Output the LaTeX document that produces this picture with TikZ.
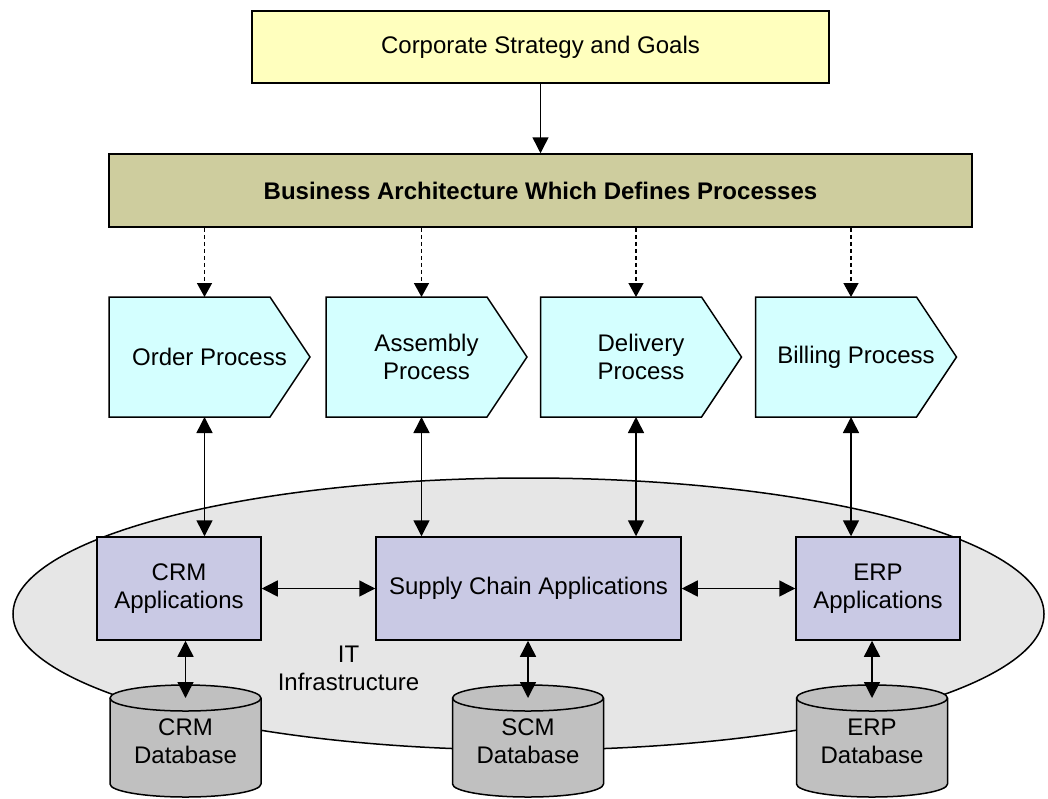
\documentclass[tikz,border=0pt]{standalone}
\usepackage{fontspec}
\setmainfont{Liberation Sans}
\usetikzlibrary{positioning}
\usetikzlibrary{shapes.geometric,arrows.meta,backgrounds}

\definecolor{goalyellow}{RGB}{255,255,190}
\definecolor{archolive}{RGB}{206,205,158}
\definecolor{proccyan}{RGB}{212,255,255}
\definecolor{applilac}{RGB}{201,201,228}
\definecolor{infragray}{RGB}{230,230,230}
\definecolor{dbgray}{RGB}{192,192,192}

\tikzset{
  box/.style={draw,line width=1.5pt,align=center,inner sep=0pt},
  proc/.style={align=center,inner sep=0pt,outer sep=0pt,minimum width=201pt,minimum height=120pt},
  procshape/.style={draw,line width=1.5pt,fill=proccyan,line join=miter},
  app/.style={box,fill=applilac,minimum height=103pt},
  dbshape/.style={draw,line width=1.5pt,fill=dbgray},
  dbtext/.style={align=center,inner sep=0pt,outer sep=0pt,minimum width=151pt,minimum height=112pt},
  tip/.tip={Triangle[length=16pt,width=16pt]},
  link/.style={line width=1.5pt,-tip},
  dualink/.style={line width=1.5pt,tip-tip},
  dashlink/.style={line width=1.5pt,-{Triangle[length=14pt,width=15pt]},dash pattern=on 4pt off 3pt}
}

\begin{document}
\begin{tikzpicture}[x=1pt,y=-1pt,font=\fontsize{24}{28}\selectfont]
\useasboundingbox (0,0) rectangle (1048,798);
% IT layer
\node[ellipse,draw,line width=1.5pt,fill=infragray,inner sep=0pt,minimum width=1031pt,minimum height=272pt] (infra) at (528.5,614) {};
\node[align=center] (itlabel) at (348.5,668) {IT\\Infrastructure};

\node[box,fill=goalyellow,line width=2.5pt,minimum width=577pt,minimum height=72pt] (goals) at (540.5,47) {Corporate Strategy and Goals};
\node[box,fill=archolive,minimum width=863pt,minimum height=73pt] (arch) at (540.5,190.5) {\textbf{Business Architecture Which Defines Processes}};

% processes
\node[proc] (order) at (209.5,357) {Order Process};
\node[proc] (assembly) at (426.5,357) {Assembly\\Process};
\node[proc] (delivery) at (641,357) {Delivery\\Process};
\node[proc] (billing) at (856,357) {Billing Process};
\begin{scope}[on background layer]
\foreach \p in {order,assembly,delivery,billing}
  \draw[procshape] (\p.north west) -- ([xshift=-40pt]\p.north east) -- (\p.east)
    -- ([xshift=-40pt]\p.south east) -- (\p.south west) -- cycle;
\end{scope}

% applications
\node[app,minimum width=164pt] (crm) at (179,588.5) {CRM\\Applications};
\node[app,minimum width=305pt] (supply) at (528.5,588.5) {Supply Chain Applications};
\node[app,minimum width=164pt] (erp) at (878,588.5) {ERP\\Applications};

% databases
\foreach \d/\x/\t in {crmdb/185.5/CRM,scmdb/528/SCM,erpdb/872/ERP}{
  \draw[dbshape] ({\x-75.5},698) -- ++(0,86) arc[start angle=180,end angle=360,x radius=75.5pt,y radius=13pt]
    -- ++(0,-86) arc[start angle=0,end angle=180,x radius=75.5pt,y radius=13pt] -- cycle;
  \draw[line width=1.5pt] ({\x-75.5},698) arc[start angle=180,end angle=360,x radius=75.5pt,y radius=13pt];
  \node[dbtext] (\d) at (\x,741) {\t\\Database};
}

\draw[link] (goals) -- (arch);
\foreach \p in {order,assembly,delivery,billing}
  \draw[dashlink] ([xshift=-5pt]\p.north |- arch.south) -- ([xshift=-5pt]\p.north);

\draw[dualink] ([xshift=-5pt]order.south) -- ([xshift=-5pt]order.south |- crm.north);
\draw[dualink] ([xshift=-5pt]assembly.south) -- ([xshift=-5pt]assembly.south |- supply.north);
\draw[dualink] ([xshift=-5pt]delivery.south) -- ([xshift=-5pt]delivery.south |- supply.north);
\draw[dualink] ([xshift=-5pt]billing.south) -- ([xshift=-5pt]billing.south |- erp.north);
\draw[dualink] (crm) -- (supply);
\draw[dualink] (supply) -- (erp);

\foreach \d/\a in {crmdb/crm,scmdb/supply,erpdb/erp}
  \draw[dualink] (\d.north |- \a.south) -- ([yshift=-13pt]\d.north);
\end{tikzpicture}
\end{document}
